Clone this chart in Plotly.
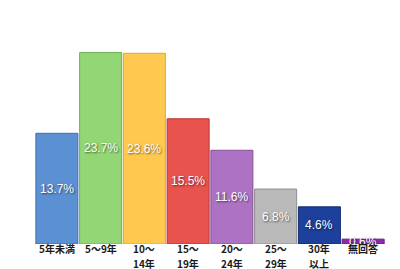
import plotly.graph_objects as go

categories = ["5年未満", "5～9年", "10～<br>14年", "15～<br>19年", "20～<br>24年", "25～<br>29年", "30年<br>以上", "無回答"]
values = [13.7, 23.7, 23.6, 15.5, 11.6, 6.8, 4.6, 0.6]
labels = ["13.7%", "23.7%", "23.6%", "15.5%", "11.6%", "6.8%", "4.6%", "0.6%"]
colors = ["#5b90d2", "#93d675", "#ffc94f", "#e9534e", "#ad72c4", "#b9b9b9", "#1d409c", "#8b2bab"]
edges = ["#3d6fae", "#6eb150", "#e0a72e", "#b93330", "#85509c", "#8e8e8e", "#0f2a72", "#641a83"]

fig = go.Figure()
fig.add_trace(go.Bar(
    x=categories, y=values,
    marker=dict(color=colors, line=dict(color=edges, width=1)),
    textposition="none",
    hoverinfo="skip",
))

for c, v, t in zip(categories, values, labels):
    fig.add_annotation(
        x=c, y=v / 2, text=t, showarrow=False, xref="x", yref="y",
        font=dict(family="Arial, Liberation Sans, sans-serif", size=12, color="white",
                  shadow="1px 1px 2px rgba(0,0,0,0.6)"),
    )
    for i, line in enumerate(c.split("<br>")):
        fig.add_annotation(
            x=c, y=0, text=line, showarrow=False, xref="x", yref="paper",
            yanchor="middle", yshift=-4.5 - 15 * i, borderpad=0,
            font=dict(family="Noto Sans CJK JP", size=10, color="#1a1a1a", weight="bold"),
        )

fig.update_layout(
    width=400, height=269,
    margin=dict(l=35, r=15, t=42, b=25),
    paper_bgcolor="white", plot_bgcolor="white",
    bargap=0.04,
    showlegend=False,
    xaxis=dict(showgrid=False, showline=False, ticks="", showticklabels=False,
               zeroline=False, automargin=False),
    yaxis=dict(range=[0, 25], visible=False),
)

fig.write_html("out.html")
